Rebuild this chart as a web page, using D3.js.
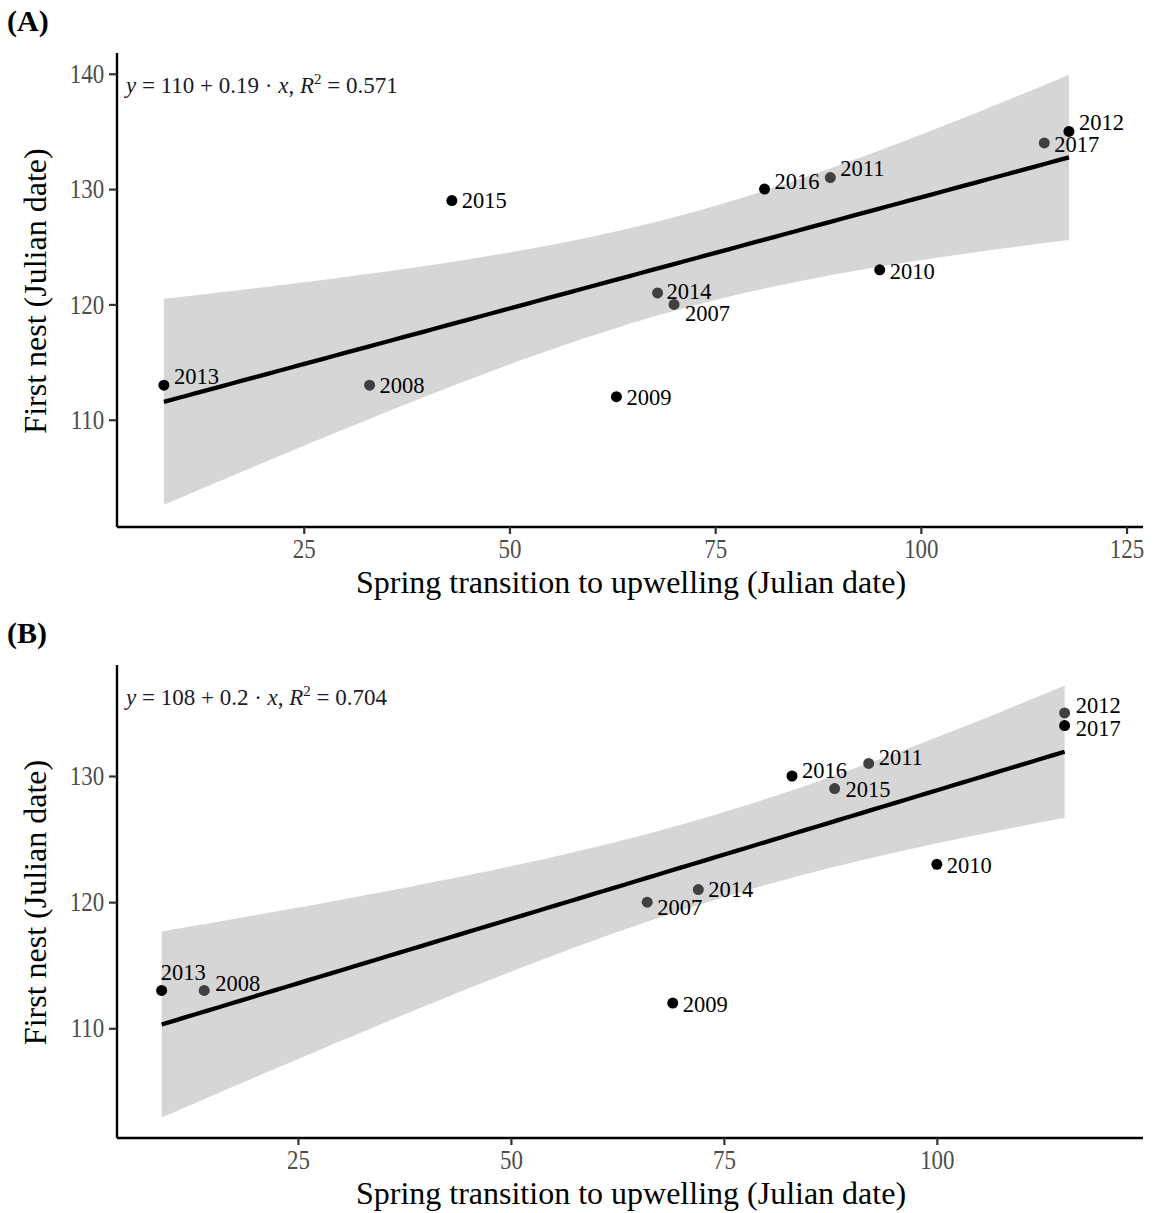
<!DOCTYPE html>
<html>
<head>
<meta charset="utf-8">
<script src="https://cdn.jsdelivr.net/npm/d3@7"></script>
<style>
  body { margin: 0; background: #fff; }
  text { font-family: "Liberation Serif", "Times New Roman", serif; }
</style>
</head>
<body>
<div id="chart"></div>
<script>
// data
var yearsA = [2013, 2008, 2015, 2009, 2014, 2007, 2016, 2011, 2010, 2017, 2012];
var upwellA = [8, 33, 43, 63, 68, 70, 81, 89, 95, 115, 118];
var nestA = [113, 113, 129, 112, 121, 120, 130, 131, 123, 134, 135];
var shadeA = ["k", "g", "k", "k", "g", "g", "k", "g", "k", "g", "k"];

var yearsB = [2013, 2008, 2007, 2009, 2014, 2016, 2015, 2011, 2010, 2012, 2017];
var upwellB = [9, 14, 66, 69, 72, 83, 88, 92, 100, 115, 115];
var nestB = [113, 113, 120, 112, 121, 130, 129, 131, 123, 135, 134];
var shadeB = ["k", "g", "g", "k", "g", "k", "g", "g", "k", "g", "k"];

var xTicksA = [25, 50, 75, 100, 125];
var yTicksA = [110, 120, 130, 140];
var xTicksB = [25, 50, 75, 100];
var yTicksB = [110, 120, 130];

var eqA = ["110", "0.19", "0.571"];
var eqB = ["108", "0.2", "0.704"];

// label placement (like ggrepel), in px relative to the point
var nudgeA = {2013: [10, -9], 2008: [10, 0], 2015: [10, 0], 2009: [10, 0], 2014: [9, -2], 2007: [11, 9],
  2016: [10, -8], 2011: [10, -9], 2010: [10, 1], 2017: [10, 1], 2012: [10, -9]};
var nudgeB = {2013: [-1, -18], 2008: [11, -7], 2007: [10, 5], 2009: [10, 1], 2014: [10, 0], 2016: [10, -6],
  2015: [11, 1], 2011: [10, -6], 2010: [10, 1], 2012: [11, -8], 2017: [11, 3]};

var width = 1153, height = 1213;
var left = 117, right = 1143;

var svg = d3.select("#chart").append("svg")
  .attr("width", width)
  .attr("height", height);

// simple least squares with 95% confidence band (df = n - 2)
function fitLine(xs, ys) {
  var n = xs.length;
  var mx = d3.mean(xs), my = d3.mean(ys);
  var sxx = d3.sum(xs, function(x) { return (x - mx) * (x - mx); });
  var sxy = d3.sum(xs, function(x, i) { return (x - mx) * (ys[i] - my); });
  var b = sxy / sxx, a = my - b * mx;
  var sse = d3.sum(xs, function(x, i) { var r = ys[i] - (a + b * x); return r * r; });
  var s = Math.sqrt(sse / (n - 2));
  var t = 2.262; // t(0.975, 9)
  return {
    a: a, b: b,
    band: function(x) {
      var f = a + b * x;
      var se = s * Math.sqrt(1 / n + (x - mx) * (x - mx) / sxx);
      return {x: x, lo: f - t * se, hi: f + t * se, fit: f};
    }
  };
}

function drawPanel(opt) {
  var xScale = d3.scaleLinear().domain(opt.xDomain).range([left, right]);
  var yScale = d3.scaleLinear().domain(opt.yDomain).range([opt.bottom, opt.top]);

  var g = svg.append("g");

  var fit = fitLine(opt.xs, opt.ys);
  var x0 = d3.min(opt.xs), x1 = d3.max(opt.xs);
  var band = d3.range(0, 81).map(function(i) { return fit.band(x0 + (x1 - x0) * i / 80); });

  g.append("path")
    .datum(band)
    .attr("fill", "#d6d6d6")
    .attr("d", d3.area()
      .x(function(d) { return xScale(d.x); })
      .y0(function(d) { return yScale(d.lo); })
      .y1(function(d) { return yScale(d.hi); }));

  g.append("path")
    .datum(band)
    .attr("fill", "none")
    .attr("stroke", "#000")
    .attr("stroke-width", 4.3)
    .attr("d", d3.line()
      .x(function(d) { return xScale(d.x); })
      .y(function(d) { return yScale(d.fit); }));

  var pts = opt.years.map(function(y, i) {
    return {year: y, x: opt.xs[i], y: opt.ys[i], shade: opt.shade[i]};
  });

  g.selectAll(".dot")
    .data(pts)
    .enter().append("circle")
    .attr("cx", function(d) { return xScale(d.x); })
    .attr("cy", function(d) { return yScale(d.y); })
    .attr("r", 5.5)
    .attr("fill", function(d) { return d.shade == "k" ? "#000" : "#404040"; });

  g.selectAll(".lab")
    .data(pts)
    .enter().append("text")
    .attr("x", function(d) { return xScale(d.x) + opt.nudge[d.year][0]; })
    .attr("y", function(d) { return yScale(d.y) + opt.nudge[d.year][1]; })
    .attr("dy", "0.35em")
    .attr("font-size", 22.5)
    .attr("fill", "#000")
    .text(function(d) { return d.year; });

  // axes
  var xAxis = g.append("g")
    .attr("transform", "translate(0," + opt.bottom + ")")
    .call(d3.axisBottom(xScale).tickValues(opt.xTicks).tickSize(7).tickPadding(5));
  var yAxis = g.append("g")
    .attr("transform", "translate(" + left + ",0)")
    .call(d3.axisLeft(yScale).tickValues(opt.yTicks).tickSize(8).tickPadding(7));

  [xAxis, yAxis].forEach(function(ax) {
    ax.select(".domain").attr("stroke", "#000").attr("stroke-width", 2.4);
    ax.selectAll(".tick line").attr("stroke", "#333").attr("stroke-width", 2.2);
    ax.selectAll(".tick text")
      .attr("fill", "#4d4d4d")
      .style("font-family", "'Liberation Serif', serif")
      .attr("font-size", 27)
      .attr("transform", "scale(0.85,1)");
  });
  xAxis.select(".domain").attr("d", "M" + left + ",0H" + right);
  yAxis.select(".domain").attr("d", "M0," + opt.top + "V" + opt.bottom);

  // axis titles
  g.append("text")
    .attr("x", (left + right) / 2 + 1)
    .attr("y", opt.bottom + 66)
    .attr("text-anchor", "middle")
    .attr("font-size", 32)
    .text("Spring transition to upwelling (Julian date)");

  g.append("text")
    .attr("transform", "translate(46," + ((opt.top + opt.bottom) / 2 + 1) + ") rotate(-90)")
    .attr("text-anchor", "middle")
    .attr("font-size", 32)
    .text("First nest (Julian date)");

  // panel tag
  g.append("text")
    .attr("x", 7)
    .attr("y", opt.top - 22)
    .attr("font-size", 30)
    .attr("font-weight", "bold")
    .text(opt.tag);

  // equation
  var eq = g.append("text")
    .attr("x", 126)
    .attr("y", opt.top + 40)
    .attr("font-size", 23)
    .attr("fill", "#1a1a2a");
  eq.append("tspan").attr("font-style", "italic").text("y");
  eq.append("tspan").text(" = " + opt.eq[0] + " + " + opt.eq[1] + " \u00b7 ");
  eq.append("tspan").attr("font-style", "italic").text("x");
  eq.append("tspan").text(", ");
  eq.append("tspan").attr("font-style", "italic").text("R");
  eq.append("tspan").attr("font-size", 15).attr("dy", -9).text("2");
  eq.append("tspan").attr("dy", 9).text(" = " + opt.eq[2]);
}

drawPanel({
  tag: "(A)", top: 53, bottom: 527,
  xDomain: [2.3, 127.0], yDomain: [100.7, 141.8],
  xs: upwellA, ys: nestA, years: yearsA, shade: shadeA, nudge: nudgeA,
  xTicks: xTicksA, yTicks: yTicksA, eq: eqA
});

drawPanel({
  tag: "(B)", top: 665, bottom: 1138,
  xDomain: [3.76, 124.2], yDomain: [101.3, 138.8],
  xs: upwellB, ys: nestB, years: yearsB, shade: shadeB, nudge: nudgeB,
  xTicks: xTicksB, yTicks: yTicksB, eq: eqB
});
</script>
</body>
</html>
